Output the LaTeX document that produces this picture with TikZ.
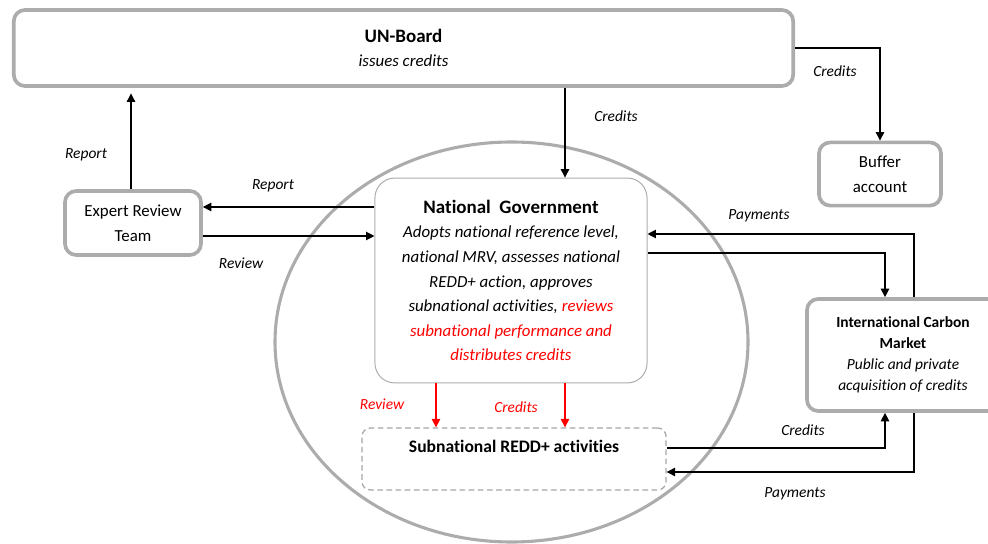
\documentclass[tikz,border=0pt]{standalone}
\usepackage{fontspec}
\setmainfont{Carlito}[Ligatures={NoCommon}]
\usetikzlibrary{arrows.meta}

\begin{document}
\begin{tikzpicture}
  [x=0.025cm, y=-0.025cm,
   every node/.style={align=center, inner sep=0, font=\fontsize{12}{17.5}\selectfont},
   box/.style={draw=gray!65, line width=2.6pt, rounded corners=8pt, fill=white},
   arr/.style={-{Triangle[length=6pt,width=6pt]}, line width=0.8pt, black},
   lbl/.style={font=\fontsize{11}{13}\selectfont\itshape}]

  \clip (0,0) rectangle (988,544);

  % the national level
  \draw[gray!65, line width=2.2pt] (511.5,342) ellipse [x radius=236.5, y radius=200];

  \node[box, minimum width=19.48cm, minimum height=1.9cm] (un) at (403.5,48)
    {{\fontsize{13.5}{19}\selectfont\bfseries UN-Board}\\{\itshape issues credits}};
  \node[box, minimum width=3.4cm, minimum height=1.6cm] (ert) at (133,223) {Expert Review\\Team};
  \node[box, minimum width=3.05cm, minimum height=1.58cm] (buf) at (880,174) {Buffer\\account};
  \node[draw=gray!65, line width=0.7pt, rounded corners=14pt, fill=white,
        minimum width=6.8cm, minimum height=5.12cm] (ng) at (511,280.5)
    {{\fontsize{13.5}{19}\selectfont\bfseries National\ \ Government}\\
     \itshape Adopts national reference level,\\
     \itshape national MRV, assesses national\\
     \itshape REDD+ action, approves\\
     \itshape subnational activities, \textcolor{red}{reviews}\\
     \itshape\color{red} subnational performance and\\
     \itshape\color{red} distributes credits};
  \node[draw=gray!70, dashed, dash pattern=on 4pt off 2.5pt, line width=0.9pt, rounded corners=6pt,
        minimum width=7.6cm, minimum height=1.55cm] (sub) at (514,459)
    {\fontsize{12.5}{17}\selectfont\bfseries Subnational REDD+ activities\\ \mbox{}};
  \node[box, minimum width=4.8cm, minimum height=2.8cm,
        font=\fontsize{11}{15}\selectfont] (icm) at (903,355)
    {\bfseries International Carbon\\ \bfseries Market\\
     \itshape Public and private\\ \itshape acquisition of credits};

  \coordinate (c1) at (914,234);
  \coordinate (c2) at (885,253);
  \coordinate (c3) at (885,448);
  \coordinate (c4) at (914,472);
  \coordinate (c5) at (0,207);
  \coordinate (c6) at (0,236);
  \coordinate (c7) at (565,0);
  \coordinate (c8) at (436,0);
  \coordinate (c9) at (131,0);

  \draw[arr, shorten >=4pt] (ert.north -| c9) -- (un.south -| c9);
  \draw[arr] (ng.west |- c5) -- (ert.east |- c5);
  \draw[arr] (ert.east |- c6) -- (ng.west |- c6);
  \draw[arr] (un.south -| c7) -- (ng.north -| c7);
  \draw[arr] (un.east) -| (buf.north);
  \draw[arr] (icm.north -| c1) |- (ng.east |- c1);
  \draw[arr] (ng.east |- c2) -| (icm.north -| c2);
  \draw[arr] (sub.east |- c3) -| (icm.south -| c3);
  \draw[arr] (icm.south -| c4) |- (sub.east |- c4);
  \draw[arr, red] (ng.south -| c8) -- (sub.north -| c8);
  \draw[arr, red] (ng.south -| c7) -- (sub.north -| c7);

  \node[lbl] (l1) at (86,155) {Report};
  \node[lbl] (l2) at (273,186) {Report};
  \node[lbl] (l3) at (241,263) {Review};
  \node[lbl] (l4) at (616,116) {Credits};
  \node[lbl] (l5) at (835,71) {Credits};
  \node[lbl] (l6) at (759,216) {Payments};
  \node[lbl] (l7) at (803,430) {Credits};
  \node[lbl] (l8) at (795,494) {Payments};
  \node[lbl, red] (l9) at (382,404) {Review};
  \node[lbl, red] (l10) at (516,407) {Credits};
\end{tikzpicture}
\end{document}
